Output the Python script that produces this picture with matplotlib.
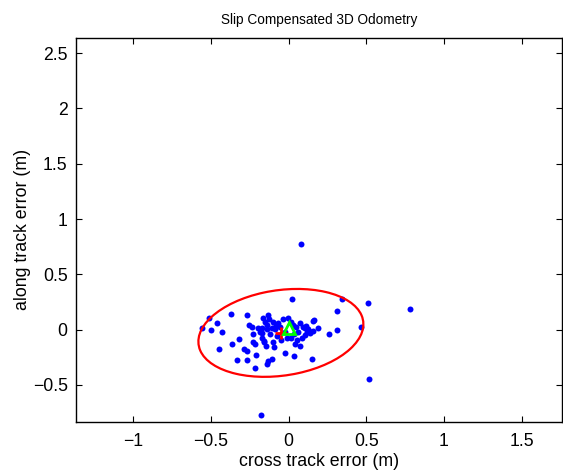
"""Slip compensated 3D odometry: cross/along track error scatter."""

import matplotlib
matplotlib.use("Agg")
import matplotlib.pyplot as plt
import numpy as np
from matplotlib.patches import Ellipse

plt.rcParams["font.family"] = ["Liberation Sans", "DejaVu Sans"]

# end point errors (m)
cross_err = [
    -0.513, -0.560, -0.498, -0.459, -0.431, -0.369, -0.266, -0.254, -0.236, -0.228,
    -0.185, -0.367, -0.322, -0.232, -0.215, -0.447, -0.286, -0.266, -0.212, -0.335,
    -0.266, -0.219, -0.178, -0.159, -0.148, -0.095, -0.131, -0.127, -0.153, -0.099,
    -0.067, -0.199, -0.174, -0.142, -0.109, -0.088, -0.056, 0.015, -0.024, -0.174,
    -0.120, -0.013, 0.015, 0.051, 0.105, 0.126, 0.094, 0.116, 0.137, 0.105,
    0.084, 0.165, 0.187, -0.174, -0.157, -0.099, 0.041, 0.062, 0.036, 0.028,
    0.047, 0.023, 0.341, 0.512, 0.309, 0.154, 0.463, 0.309, 0.261, 0.148,
    0.515, 0.781, 0.079, -0.024, 0.036, 0.073, -0.135, -0.109, -0.142, -0.165,
    -0.037, -0.005, 0.073, 0.156, -0.050, -0.075, -0.080, 0.110, 0.130, -0.140,
]
along_err = [
    0.101, 0.014, -0.005, 0.056, -0.020, 0.140, 0.134, 0.043, 0.020, -0.043,
    -0.020, -0.128, -0.089, -0.113, -0.134, -0.176, -0.176, -0.197, -0.231, -0.276,
    -0.278, -0.345, -0.776, -0.101, -0.146, -0.156, 0.131, 0.095, 0.065, 0.065,
    0.056, 0.016, 0.011, 0.005, 0.011, 0.002, 0.023, 0.071, -0.020, -0.034,
    -0.043, -0.074, -0.080, -0.095, 0.011, 0.005, 0.025, -0.025, -0.034, -0.050,
    -0.080, 0.086, 0.016, -0.080, -0.110, -0.110, -0.134, -0.020, -0.043, 0.041,
    0.023, 0.276, 0.276, 0.237, 0.167, 0.080, 0.023, -0.002, -0.043, -0.267,
    -0.445, 0.185, 0.773, -0.210, -0.240, -0.149, -0.285, -0.264, -0.309, 0.104,
    0.095, 0.104, 0.059, -0.014, -0.095, -0.059, 0.040, 0.035, -0.010, 0.045,
]

mean_pt = (-0.05, -0.03)      # red cross
truth_pt = (0.0, 0.01)        # green triangle
ell_width = 1.086             # error ellipse, full axes (m)
ell_height = 0.762
ell_angle = 17.0              # degrees

x_ticks = [-1, -0.5, 0, 0.5, 1, 1.5]
y_ticks = [-0.5, 0, 0.5, 1, 1.5, 2, 2.5]


def fmt(v):
    return f"{v:g}".replace("-", "\u2212")


def main():
    fig = plt.figure(figsize=(5.63, 4.71), dpi=100)
    ax = fig.add_axes([0.135, 0.104, 0.863, 0.816])

    ax.plot(cross_err, along_err, "o", color="#0000ff", markersize=4.3,
            markeredgewidth=0, zorder=2)
    ax.add_patch(Ellipse(mean_pt, ell_width, ell_height, angle=ell_angle,
                         fill=False, edgecolor="#ff0000", linewidth=1.6, zorder=3))
    ax.plot(*mean_pt, "+", color="#ff0000", markersize=9, markeredgewidth=2, zorder=4)
    ax.plot(*truth_pt, "^", markerfacecolor="none", markeredgecolor="#00ff00",
            markersize=9, markeredgewidth=2, zorder=5)

    ax.set_xlim(-1.369, 1.759)
    ax.set_ylim(-0.836, 2.640)
    ax.set_xticks(x_ticks)
    ax.set_xticklabels([fmt(v) for v in x_ticks])
    ax.set_yticks(y_ticks)
    ax.set_yticklabels([fmt(v) for v in y_ticks])
    ax.tick_params(direction="in", top=True, right=True, length=4, width=0.8,
                   labelsize=12.7, pad=6)
    ax.tick_params(axis="x", pad=8)
    for sp in ax.spines.values():
        sp.set_linewidth(1.0)

    ax.set_xlabel("cross track error (m)", fontsize=12.8, labelpad=2)
    ax.set_ylabel("along track error (m)", fontsize=12.8, labelpad=1)
    ax.set_title("Slip Compensated 3D Odometry", fontsize=9.8, pad=10)

    fig.savefig("out.png", dpi=100, facecolor="white")
    plt.close(fig)


if __name__ == "__main__":
    main()
